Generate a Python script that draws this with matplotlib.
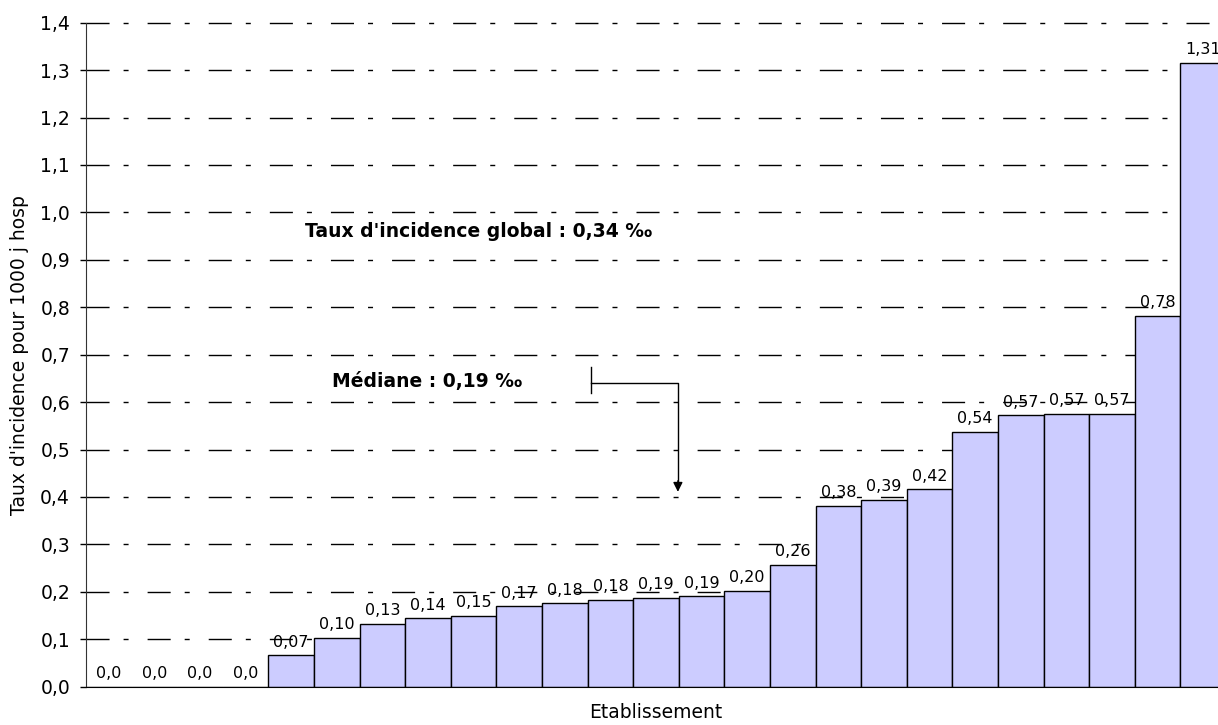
import numpy as np
import matplotlib.pyplot as plt

# Taux d'incidence par établissement (pour 1000 j d'hospitalisation), triés
taux = [0.0, 0.0, 0.0, 0.0, 0.066, 0.103, 0.133, 0.144, 0.150, 0.170,
        0.176, 0.183, 0.187, 0.191, 0.202, 0.257, 0.381, 0.394, 0.416,
        0.537, 0.572, 0.575, 0.575, 0.782, 1.315]
yticks = np.arange(0, 1.41, 0.1)
taux_global = 0.34
mediane = 0.19


def fmt(v, nd):
    return ('{:.' + str(nd) + 'f}').format(v).replace('.', ',')


def main():
    fig = plt.figure(figsize=(12.18, 7.25), dpi=100)
    ax = fig.add_axes([0.0706, 0.0528, 0.936, 0.9159])

    x = np.arange(len(taux))
    ax.bar(x, taux, width=1.0, color='#ccccff', edgecolor='black',
           linewidth=1.0, zorder=2)

    # Valeurs au-dessus des barres
    for xi, v in zip(x, taux):
        label = fmt(v, 1) if v == 0 else fmt(v, 2)
        ax.annotate(label, (xi, v), xytext=(0, 4), textcoords='offset points',
                    ha='center', va='bottom', fontsize=11.5, zorder=3)

    ax.set_xlim(-0.5, len(taux) - 0.5)
    ax.set_ylim(0, 1.4)
    ax.set_yticks(yticks)
    ax.set_yticklabels([fmt(t, 1) for t in yticks], fontsize=13.5)
    ax.set_xticks([])
    ax.tick_params(axis='y', direction='out', length=4.5, width=1, pad=7)

    # Grille en tirets long-court
    for t in yticks[1:]:
        ax.plot([-0.5, len(taux) - 0.5], [t, t], color='black', linewidth=1,
                zorder=1, clip_on=False,
                linestyle=(0, (16.6, 10.1, 3.6, 13.7)))

    for side in ['top', 'right']:
        ax.spines[side].set_visible(False)
    ax.spines['left'].set_color('#333333')
    ax.spines['bottom'].set_color('black')

    ax.set_ylabel("Taux d'incidence pour 1000 j hosp", fontsize=13.5, labelpad=8)
    ax.set_xlabel('Etablissement', fontsize=13.5, labelpad=12)

    ax.text(4.3, 0.96, "Taux d'incidence global : " + fmt(taux_global, 2) + ' \u2030',
            fontsize=13.5, fontweight='bold', va='center', ha='left')
    ax.text(4.9, 0.643, 'Médiane : ' + fmt(mediane, 2) + ' \u2030',
            fontsize=13.5, fontweight='bold', va='center', ha='left')

    # Flèche vers la médiane
    ax.plot([10.57, 10.57], [0.62, 0.675], color='black', linewidth=1, zorder=4)
    ax.plot([10.57, 12.48, 12.48], [0.641, 0.641, 0.43], color='black',
            linewidth=1, zorder=4)
    ax.annotate('', xy=(12.48, 0.405), xytext=(12.48, 0.44),
                arrowprops=dict(arrowstyle='-|>', color='black', lw=1,
                                mutation_scale=14), zorder=4)

    fig.savefig('out.png', dpi=100)


if __name__ == '__main__':
    main()
